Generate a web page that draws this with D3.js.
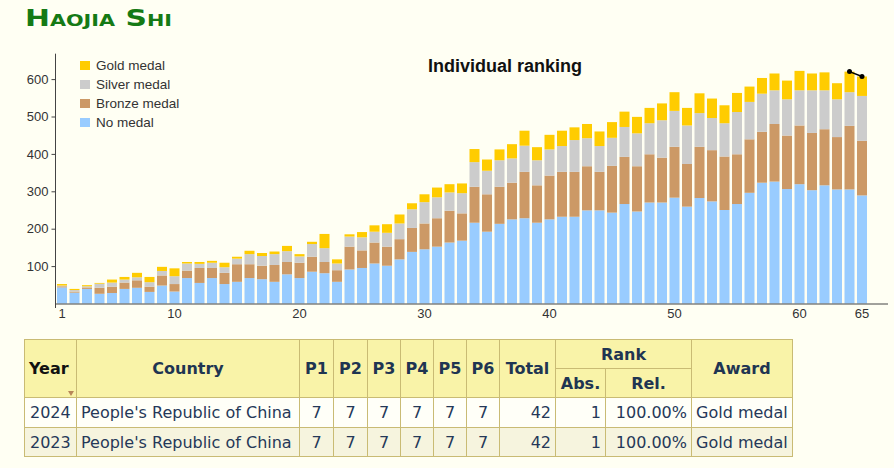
<!DOCTYPE html>
<html>
<head>
<meta charset="utf-8">
<script src="https://cdn.jsdelivr.net/npm/d3@7"></script>
<style>
  html, body { margin: 0; padding: 0; background: #fffff3; width: 894px; height: 468px; overflow: hidden; }
  #wrap { position: relative; width: 894px; height: 468px; }
  svg { position: absolute; left: 0; top: 0; }
  table.res { position: absolute; left: 24px; top: 339px; border-collapse: collapse; table-layout: fixed;
    font-family: "DejaVu Sans", Verdana, sans-serif; font-size: 16px; color: #253858; }
  table.res td, table.res th { border: 1px solid #c9bb74; padding: 0 4px; box-sizing: border-box; white-space: nowrap; overflow: hidden; }
  table.res th { background: #f9f3a8; font-weight: bold; color: #1f3552; text-align: center; }
  table.res th.year { color: #111; text-align: left; position: relative; }
  table.res tr.r1 td { background: #fffff8; }
  table.res tr.r2 td { background: #f6f4de; }
  .tri { position: absolute; right: 2px; bottom: 1px; width: 0; height: 0; border-left: 3px solid transparent; border-right: 3px solid transparent; border-top: 5px solid #b8875a; }
</style>
</head>
<body>
<div id="wrap"></div>
<script>
// ---- Data ----
const editions = [1,2,3,4,5,6,7,8,9,10,11,12,13,14,15,16,17,18,19,20,21,22,23,24,25,26,27,28,29,30,31,32,33,34,35,36,37,38,39,40,41,42,43,44,45,46,47,48,49,50,51,52,53,54,55,56,57,58,59,60,61,62,63,64,65];
const noMedal = [43,29,39,26,28,39,42,31,48,32,68,55,68,52,58,68,65,58,78,68,85,81,58,91,95,107,101,118,138,145,152,163,168,216,192,213,225,228,216,225,232,232,249,249,243,266,246,270,270,283,259,282,273,250,266,296,323,326,306,319,303,316,305,305,289];
const bronze  = [3,3,4,16,17,17,20,14,27,20,20,40,27,30,47,37,36,45,33,41,40,30,31,61,47,56,51,54,64,69,76,85,73,96,100,99,98,124,100,117,120,120,118,103,125,126,121,129,120,136,114,137,137,143,133,143,136,154,143,157,153,150,140,170,146];
const silver  = [2,4,3,11,11,8,8,12,12,21,19,11,14,15,15,27,26,29,29,17,34,37,18,27,35,29,37,42,50,57,56,49,54,66,63,71,65,70,67,70,69,85,75,69,75,80,88,83,100,96,103,90,86,89,113,100,102,90,97,94,114,104,101,90,120];
const gold    = [4,3,3,2,8,7,12,14,11,21,4,5,5,12,5,9,8,7,14,6,6,38,11,6,14,17,23,24,16,21,26,22,26,35,30,29,38,40,35,39,41,34,38,39,42,41,44,41,45,50,47,53,52,48,51,41,42,45,50,52,45,48,43,55,52];
const seriesNames = ["No medal", "Bronze medal", "Silver medal", "Gold medal"];
const seriesColors = ["#99ccff", "#cc9966", "#cccccc", "#ffcc00"];
const legendOrder = ["Gold medal", "Silver medal", "Bronze medal", "No medal"];
const yTicks = [100, 200, 300, 400, 500, 600];
const xTickLabels = [1, 10, 20, 30, 40, 50, 60, 65];
const participantEditions = [64, 65];
const participantRanks = [1, 1];

const tableYears = ["2024", "2023"];
const tableCountries = ["People's Republic of China", "People's Republic of China"];
const tableScores = [[7,7,7,7,7,7],[7,7,7,7,7,7]];
const tableTotals = [42, 42];
const tableAbs = [1, 1];
const tableRel = ["100.00%", "100.00%"];
const tableAwards = ["Gold medal", "Gold medal"];

// ---- Chart ----
const W = 894, H = 468;
const wrap = d3.select("#wrap");
const svg = wrap.append("svg").attr("width", W).attr("height", 335);

svg.append("text").attr("x", 25).attr("y", 26)
  .attr("font-family", "'DejaVu Sans', Verdana, sans-serif").attr("font-weight", "bold")
  .attr("font-size", 23).style("font-variant", "small-caps").attr("fill", "#157a15")
  .attr("textLength", 147).attr("lengthAdjust", "spacingAndGlyphs")
  .text("Haojia Shi");

const x = d3.scaleBand().domain(editions).range([55.75, 868.25]).paddingInner(0.2).paddingOuter(0.1);
const y = d3.scaleLinear().domain([0, 600]).range([303.5, 79.1]);

const rows = editions.map((e, i) => ({ e, "No medal": noMedal[i], "Bronze medal": bronze[i], "Silver medal": silver[i], "Gold medal": gold[i] }));
const stacked = d3.stack().keys(seriesNames)(rows);

const g = svg.append("g");
g.selectAll("g.s").data(stacked).join("g").attr("class", "s")
  .attr("fill", (d, i) => seriesColors[i])
  .selectAll("rect").data(d => d).join("rect")
  .attr("x", d => x(d.data.e))
  .attr("width", x.bandwidth())
  .attr("y", d => y(d[1]))
  .attr("height", d => y(d[0]) - y(d[1]));

// axes
const axisColor = "#444";
svg.append("line").attr("x1", 55).attr("x2", 888).attr("y1", y(0) + 0.5).attr("y2", y(0) + 0.5).attr("stroke", axisColor);
svg.append("line").attr("x1", 55.5).attr("x2", 55.5).attr("y1", y(668)).attr("y2", 308).attr("stroke", axisColor);

const yAxis = d3.axisLeft(y).tickValues(yTicks).tickSize(4).tickPadding(3).tickFormat(d3.format("d"));
const ya = svg.append("g").attr("transform", "translate(55.5,0)").call(yAxis);
ya.select(".domain").remove();
ya.selectAll("line").attr("stroke", axisColor);
ya.selectAll("text").attr("font-family", "Arial, 'Liberation Sans', sans-serif").attr("font-size", 13).attr("fill", "#333");

const xa = svg.append("g").attr("transform", `translate(0,${y(0)})`)
  .call(d3.axisBottom(x).tickValues(xTickLabels).tickSize(0).tickPadding(5));
xa.select(".domain").remove();
xa.selectAll("text").attr("font-family", "Arial, 'Liberation Sans', sans-serif").attr("font-size", 13).attr("fill", "#333");

// title
svg.append("text").attr("x", 505).attr("y", 72).attr("text-anchor", "middle")
  .attr("font-family", "Arial, 'Liberation Sans', sans-serif").attr("font-weight", "bold").attr("font-size", 18)
  .attr("fill", "#111").text("Individual ranking");

// legend
const lg = svg.append("g").attr("transform", "translate(80,61)");
legendOrder.forEach((name, i) => {
  const row = lg.append("g").attr("transform", `translate(0,${i * 19})`);
  row.append("rect").attr("width", 10).attr("height", 9).attr("fill", seriesColors[seriesNames.indexOf(name)]);
  row.append("text").attr("x", 16).attr("y", 8.5).attr("font-family", "Arial, 'Liberation Sans', sans-serif")
    .attr("font-size", 13.5).attr("fill", "#333").text(name);
});

// participant marker
const totals = editions.map((e, i) => noMedal[i] + bronze[i] + silver[i] + gold[i]);
const pts = participantEditions.map((e, i) => ({ cx: x(e) + x.bandwidth() / 2, cy: y(totals[editions.indexOf(e)] - participantRanks[i] + 1) }));
svg.append("path").attr("d", d3.line().x(d => d.cx).y(d => d.cy)(pts)).attr("stroke", "#000").attr("stroke-width", 1.5).attr("fill", "none");
svg.selectAll("circle.p").data(pts).join("circle").attr("class", "p").attr("cx", d => d.cx).attr("cy", d => d.cy).attr("r", 2.5).attr("fill", "#000");

// ---- Table ----
const colW = [52, 223, 34, 34, 33, 33, 33, 33, 56, 50, 86, 101];
const table = wrap.append("table").attr("class", "res").style("width", d3.sum(colW) + "px");
const cg = table.append("colgroup");
colW.forEach(w => cg.append("col").style("width", w + "px"));
const h1 = table.append("tr").style("height", "29px");
const yearTh = h1.append("th").attr("rowspan", 2).attr("class", "year").text("Year");
yearTh.append("span").attr("class", "tri");
h1.append("th").attr("rowspan", 2).text("Country");
["P1","P2","P3","P4","P5","P6","Total"].forEach(t => h1.append("th").attr("rowspan", 2).text(t));
h1.append("th").attr("colspan", 2).text("Rank");
h1.append("th").attr("rowspan", 2).text("Award");
const h2 = table.append("tr").style("height", "29px");
h2.append("th").text("Abs.");
h2.append("th").text("Rel.");
tableYears.forEach((yr, i) => {
  const tr = table.append("tr").attr("class", i === 0 ? "r1" : "r2").style("height", i === 0 ? "30px" : "29px");
  tr.append("td").style("text-align", "left").style("padding", "0 3px 0 5px").text(yr);
  tr.append("td").style("text-align", "left").text(tableCountries[i]);
  tableScores[i].forEach(s => tr.append("td").style("text-align", "center").text(s));
  tr.append("td").style("text-align", "right").text(tableTotals[i]);
  tr.append("td").style("text-align", "right").text(tableAbs[i]);
  tr.append("td").style("text-align", "right").text(tableRel[i]);
  tr.append("td").style("text-align", "left").text(tableAwards[i]);
});
</script>
</body>
</html>
